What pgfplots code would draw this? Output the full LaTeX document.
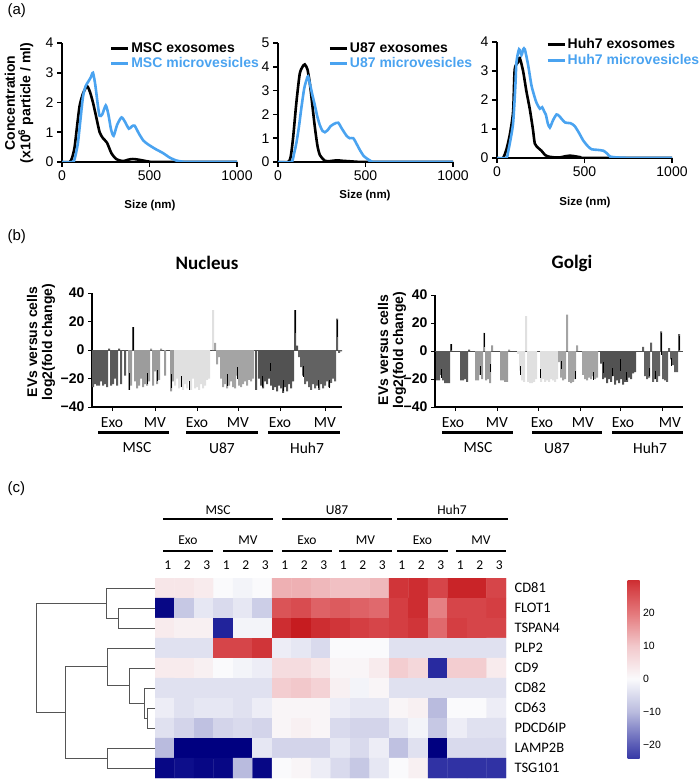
\documentclass[border=0pt]{standalone}
\usepackage{pgfplots}
\pgfplotsset{compat=1.18}
\usepackage{fontspec}
\setmainfont{Liberation Sans}
\newfontfamily\cali{Carlito}
\definecolor{mvblue}{HTML}{4AA3F0}
\definecolor{ga}{HTML}{5A5A5A}
\definecolor{gb}{HTML}{9C9C9C}
\definecolor{gc}{HTML}{E0E0E0}
\definecolor{gd}{HTML}{A4A4A4}
\definecolor{ge}{HTML}{525252}
\definecolor{gf}{HTML}{626262}
\definecolor{dendro}{HTML}{555555}
\newcommand{\fs}[1]{\fontsize{#1}{#1}\selectfont}

\pgfplotsset{
  nta/.style={scale only axis, width=175pt, xmin=0, xmax=1000, ymin=0,
    axis x line*=bottom, axis y line*=left,
    axis line style={line width=1.5pt},
    tick style={black, line width=1.5pt}, tick align=outside, major tick length=5pt,
    xtick={0,500,1000}, xticklabels={0,500,1000},
    tick label style={font=\fs{14}},
    legend cell align=left,
    legend style={draw=none, fill=none, anchor=north west, font=\bfseries\fs{14},
      row sep=1pt, nodes={inner sep=1.5pt}},
    legend image code/.code={\draw[#1, line width=3pt] (0pt,0pt) -- (17pt,0pt);},
  },
  ntb/.style={scale only axis, ymin=-40, ymax=40, ytick={-40,-20,0,20,40},
    yticklabels={\textbf{−40},\textbf{−20},\textbf{0},\textbf{20},\textbf{40}},
    axis x line*=bottom, axis y line*=left, axis line style={line width=1.2pt},
    tick style={black, line width=1pt}, tick align=outside, major tick length=4pt,
    xticklabels={}, tick label style={font=\fs{14}},
    extra y ticks={0}, extra y tick labels={},
    extra y tick style={grid=major, major grid style={black!70, line width=0.8pt}, major tick length=0pt},
  },
  bars/.style={ybar, bar width=2, bar shift=0pt, draw=none, fill=#1},
  errs/.style={draw=none, mark=none, forget plot, error bars/.cd, y dir=both, y explicit,
    error mark=none, error bar style={draw=black, line width=0.9pt}},
  dg/.style={dendro, line width=1pt, sharp plot, mark=none},
}

\begin{document}
\begin{tikzpicture}
\useasboundingbox (0,0) rectangle (698pt,-783pt);

% ---------------- (a) size distributions ----------------
\begin{axis}[nta, at={(62pt,-162pt)}, anchor=south west, height=119pt, ymax=4,
  ytick={0,1,2,3,4}, yticklabels={0,1,2,3,4},
  legend style={at={(0.255,1.035)}}]
\addplot[black, line width=2.6pt, smooth, tension=0.4] coordinates {
 (0,0)(44,0)(58,0.15)(72,0.5)(88,1.3)(101,1.9)(120,2.3)(143,2.55)(160,2.35)(177,2.0)
 (196,1.5)(215,1.0)(234,0.8)(257,0.65)(282,0.3)(310,0.1)(349,0.03)(380,0.08)(405,0.1)
 (435,0.08)(463,0.05)(500,0.01)(530,0)(1000,0)};
\addplot[mvblue, line width=2.6pt, smooth, tension=0.4] coordinates {
 (0,0)(60,0)(72,0.1)(90,0.6)(105,1.4)(120,2.2)(135,2.55)(150,2.7)(165,2.85)(177,3.0)
 (190,2.6)(205,1.9)(215,1.55)(230,1.6)(250,1.9)(265,1.6)(280,1.1)(295,0.88)(315,1.25)
 (340,1.5)(360,1.35)(382,1.12)(400,1.2)(415,1.22)(440,0.95)(465,0.72)(490,0.6)(530,0.45)
 (577,0.3)(615,0.15)(653,0.05)(690,0.01)(710,0)(1000,0)};
\legend{MSC exosomes, \textcolor{mvblue}{MSC microvesicles}}
\end{axis}

\begin{axis}[nta, at={(278pt,-162pt)}, anchor=south west, height=119pt, ymax=5,
  ytick={0,1,2,3,4,5}, yticklabels={0,1,2,3,4,5},
  legend style={at={(0.27,1.035)}}]
\addplot[black, line width=2.6pt, smooth, tension=0.4] coordinates {
 (0,0)(57,0)(72,0.2)(86,1.0)(105,2.5)(124,3.7)(140,4.0)(153,4.1)(168,3.9)(182,3.3)
 (196,2.4)(210,1.5)(225,0.7)(239,0.3)(268,0.05)(300,0.04)(335,0.07)(370,0.05)(411,0.03)
 (450,0.01)(488,0)(1000,0)};
\addplot[mvblue, line width=2.6pt, smooth, tension=0.4] coordinates {
 (0,0)(76,0)(90,0.3)(105,0.8)(120,1.5)(134,2.3)(150,3.1)(165,3.5)(172,3.6)(185,3.2)
 (197,2.8)(210,2.4)(225,1.9)(239,1.55)(255,1.3)(268,1.25)(285,1.35)(300,1.5)(320,1.6)
 (344,1.65)(365,1.4)(392,1.1)(410,1.0)(430,1.0)(450,0.75)(468,0.5)(490,0.25)(507,0.15)
 (535,0.02)(560,0)(1000,0)};
\legend{U87 exosomes, \textcolor{mvblue}{U87 microvesicles}}
\end{axis}

\begin{axis}[nta, at={(497pt,-158pt)}, anchor=south west, height=116pt, ymax=4,
  ytick={0,1,2,3,4}, yticklabels={0,1,2,3,4},
  legend style={at={(0.263,1.06)}}]
\addplot[black, line width=2.6pt, smooth, tension=0.4] coordinates {
 (0,0)(34,0)(54,0.3)(73,0.8)(92,1.6)(101,3.05)(120,3.3)(130,3.45)(149,3.0)(168,2.3)
 (187,1.7)(205,1.0)(216,0.5)(235,0.35)(254,0.25)(275,0.1)(293,0.05)(330,0.02)(360,0.02)
 (390,0.06)(417,0.08)(445,0.06)(474,0.03)(512,0)(1000,0)};
\addplot[mvblue, line width=2.6pt, smooth, tension=0.4] coordinates {
 (0,0)(54,0)(63,0.2)(73,0.5)(92,1.2)(105,2.5)(111,3.3)(126,3.75)(140,3.55)(150,3.75)
 (159,3.75)(178,3.2)(197,2.5)(215,2.1)(226,1.9)(245,1.7)(258,1.75)(270,1.6)(279,1.5)
 (290,1.2)(302,1.05)(320,1.3)(340,1.5)(355,1.45)(369,1.35)(390,1.22)(420,1.2)(444,1.1)
 (470,0.85)(493,0.6)(520,0.4)(541,0.3)(575,0.28)(608,0.25)(630,0.15)(646,0.05)(684,0.02)
 (720,0.01)(780,0)(1000,0)};
\legend{Huh7 exosomes, \textcolor{mvblue}{Huh7 microvesicles}}
\end{axis}

% ---------------- (b) fold changes ----------------
\begin{axis}[ntb, at={(92pt,-407pt)}, anchor=south west, width=250pt, height=114pt,
  xmin=92, xmax=342, xtick={112,155,197,238,280,325}]
\addplot[bars=ga] coordinates {(93,-26) (95,-24) (97,-25) (99,-25) (101,-22) (103,-25) (105,-24)
 (107,-26) (109,1) (111,-25) (113,-24) (115,-20) (117,-25) (119,1) (121,-24) (125,-18)};
\addplot[bars=gb] coordinates {(129,-28) (131,-25) (135,-22) (137,-27) (139,-25) (141,-20)
 (143,-26) (145,-24) (147,-25) (149,-22) (151,1) (153,-25) (155,-15) (157,-24) (159,-21)
 (161,1) (165,-18) (171,-29) (173,-22)};
\addplot[bars=gc] coordinates {(175,-25) (177,-20) (179,-27) (181,-26) (183,-28) (185,-24)
 (187,-27) (189,-22) (191,-28) (193,-20) (195,-27) (197,-26) (199,-28) (201,-24) (203,-27)
 (205,-25) (207,-21) (209,-20) (213,28)};
\addplot[bars=gd] coordinates {(215,5) (217,-10) (219,-5) (221,-20) (223,-26) (225,-24)
 (227,-27) (229,-25) (231,-22) (233,-26) (235,-27) (237,-18) (239,-25) (241,-26) (243,-24)
 (245,-22) (247,-25) (249,-21) (251,-22) (253,-20)};
\addplot[bars=ge] coordinates {(133,16) (256,-28) (259,-20) (261,-25) (263,-27) (265,-22)
 (267,-24) (269,-20) (271,-25) (273,-28) (275,-26) (277,-29) (279,-25) (281,-27) (283,-30)
 (285,-26) (287,-29) (289,-24) (291,-27) (293,-22) (295,28) (297,3)};
\addplot[bars=gf] coordinates {(299,-5) (301,-12) (303,-18) (305,-24) (307,-22) (309,-26)
 (311,-28) (313,-24) (315,-27) (317,-25) (319,-28) (321,-24) (323,-27) (325,-25) (327,-22)
 (329,-26) (331,-23) (333,-20) (335,-22) (337,22) (339,-2) (341,-1)};
\addplot[errs] coordinates {(129,-22) +- (0,6) (133,8) +- (0,8) (147,-20) +- (0,4)
 (157,-18) +- (0,4) (171,-22) +- (0,5) (181,-22) +- (0,4) (189,-25) +- (0,3)
 (227,-21) +- (0,4) (237,-16) +- (0,4) (262,-22) +- (0,4) (270,-12) +- (0,3)
 (283,-25) +- (0,4) (295,20) +- (0,8) (303,-15) +- (0,4) (318,-24) +- (0,3)
 (329,-24) +- (0,3) (337,15) +- (0,6)};
\end{axis}

\begin{axis}[ntb, at={(435pt,-407pt)}, anchor=south west, width=248pt, height=112pt,
  xmin=435, xmax=683, xtick={455,497,538,580,620,662}]
\addplot[bars=ga] coordinates {(437,-21) (439,-21) (441,-17) (443,-21) (445,-23) (447,-23)
 (449,-23) (451,5) (461,-21) (463,-21) (465,-20) (467,-22) (469,1)};
\addplot[bars=gb] coordinates {(476,-21) (478,-21) (480,-17) (482,-20) (484,13) (486,-21)
 (488,-20) (490,-23) (492,4) (501,-21) (503,-21) (505,-22) (507,-22) (509,1)};
\addplot[bars=gc] coordinates {(518,-2) (520,-14) (522,-21) (524,-22) (526,25) (528,-22)
 (530,-23) (532,-23) (534,-22) (536,-20) (541,-22) (543,-20) (545,-22) (547,-21) (549,-22)
 (551,-20) (553,-21) (555,-22) (557,-20)};
\addplot[bars=gd] coordinates {(559,-8) (561,-19) (563,-21) (565,-20) (567,26) (569,-22)
 (571,-23) (573,-22) (575,-20) (577,4) (583,-17) (585,-20) (587,-21) (589,-19) (591,-20)
 (593,-18) (595,-20) (597,-19)};
\addplot[bars=ge] coordinates {(601,-9) (603,-20) (605,-19) (607,-23) (609,-20) (611,-22)
 (613,-18) (615,-24) (617,-21) (619,-23) (621,-20) (623,-24) (625,-22) (627,-22) (629,-19)
 (631,-20) (633,-16) (635,-15)};
\addplot[bars=gf] coordinates {(643,3) (645,-18) (647,-20) (649,-19) (651,6) (653,-22)
 (655,-20) (657,-22) (659,-18) (661,14) (663,-20) (665,-21) (667,-22) (669,2) (671,-6)
 (673,-10) (675,-15) (677,-15) (679,12)};
\addplot[errs] coordinates {(441,-16) +- (0,3) (451,3) +- (0,2) (480,-14) +- (0,3)
 (484,8) +- (0,5) (490,-12) +- (0,3) (520,-14) +- (0,3) (540,-16) +- (0,3)
 (561,-10) +- (0,3) (575,-17) +- (0,3) (593,-18) +- (0,3) (603,-12) +- (0,4)
 (612,-15) +- (0,3) (620,-10) +- (0,4) (626,-18) +- (0,3) (649,-15) +- (0,3)
 (655,-17) +- (0,3) (661,5) +- (0,8) (671,-8) +- (0,3) (679,6) +- (0,5)};
\end{axis}

% ---------------- (c) heatmap ----------------
\begin{axis}[at={(155pt,-578pt)}, anchor=north west, scale only axis,
  width=351pt, height=200pt, xmin=-0.5, xmax=17.5, ymin=-0.5, ymax=9.5, y dir=reverse,
  hide axis, enlargelimits=false,
  colormap={hm}{rgb255(0pt)=(0,0,128) rgb255(6pt)=(40,42,160) rgb255(12pt)=(90,92,182)
    rgb255(22pt)=(185,187,222) rgb255(32pt)=(250,250,252) rgb255(42pt)=(242,200,203)
    rgb255(52pt)=(228,120,123) rgb255(60pt)=(212,62,66) rgb255(64pt)=(198,28,32)},
  point meta min=-32, point meta max=32,
  colorbar,
  colorbar style={at={(parent axis.north east)}, anchor=north west, xshift=113pt, yshift=-2pt,
    scale only axis, width=12pt, height=178pt, ymin=-24, ymax=30,
    ytick={-20,-10,0,10,20}, yticklabels={−20,−10,0,10,20}, yticklabel pos=right,
    major tick length=0pt, axis line style={draw=none},
    yticklabel style={font=\fs{10.5}}}]
\addplot[matrix plot*, mesh/cols=18, point meta=explicit] coordinates {
 (0,0)[4] (1,0)[4] (2,0)[3] (3,0)[0] (4,0)[-1] (5,0)[0] (6,0)[13] (7,0)[13] (8,0)[12]
 (9,0)[11] (10,0)[11] (11,0)[12] (12,0)[29] (13,0)[30] (14,0)[27] (15,0)[31] (16,0)[31] (17,0)[27]
 (0,1)[-31] (1,1)[-8] (2,1)[-3] (3,1)[-5] (4,1)[-3] (5,1)[-7] (6,1)[25] (7,1)[26] (8,1)[23]
 (9,1)[24] (10,1)[23] (11,1)[22] (12,1)[28] (13,1)[30] (14,1)[19] (15,1)[27] (16,1)[27] (17,1)[28]
 (0,2)[3] (1,2)[2] (2,2)[2] (3,2)[-27] (4,2)[-1] (5,2)[-1] (6,2)[30] (7,2)[32] (8,2)[30]
 (9,2)[29] (10,2)[28] (11,2)[27] (12,2)[28] (13,2)[29] (14,2)[22] (15,2)[28] (16,2)[27] (17,2)[27]
 (0,3)[-4] (1,3)[-4] (2,3)[-4] (3,3)[27] (4,3)[27] (5,3)[29] (6,3)[-2] (7,3)[-3] (8,3)[-5]
 (9,3)[0] (10,3)[0] (11,3)[0] (12,3)[-4] (13,3)[-4] (14,3)[-4] (15,3)[-4] (16,3)[-4] (17,3)[-4]
 (0,4)[3] (1,4)[3] (2,4)[2] (3,4)[0] (4,4)[-1] (5,4)[-2] (6,4)[6] (7,4)[6] (8,4)[4]
 (9,4)[1] (10,4)[1] (11,4)[3] (12,4)[9] (13,4)[7] (14,4)[-26] (15,4)[9] (16,4)[9] (17,4)[3]
 (0,5)[-4] (1,5)[-4] (2,5)[-4] (3,5)[-4] (4,5)[-4] (5,5)[-4] (6,5)[9] (7,5)[10] (8,5)[8]
 (9,5)[2] (10,5)[-1] (11,5)[1] (12,5)[-4] (13,5)[-4] (14,5)[-4] (15,5)[-4] (16,5)[-4] (17,5)[-4]
 (0,6)[-2] (1,6)[-4] (2,6)[-3] (3,6)[-3] (4,6)[-4] (5,6)[-2] (6,6)[1] (7,6)[1] (8,6)[1]
 (9,6)[-2] (10,6)[-3] (11,6)[-3] (12,6)[1] (13,6)[2] (14,6)[-10] (15,6)[0] (16,6)[0] (17,6)[-2]
 (0,7)[-4] (1,7)[-6] (2,7)[-9] (3,7)[-6] (4,7)[-5] (5,7)[-6] (6,7)[1] (7,7)[2] (8,7)[1]
 (9,7)[-5] (10,7)[-6] (11,7)[-6] (12,7)[-3] (13,7)[-1] (14,7)[-8] (15,7)[-2] (16,7)[-4] (17,7)[-4]
 (0,8)[-10] (1,8)[-32] (2,8)[-32] (3,8)[-32] (4,8)[-32] (5,8)[-3] (6,8)[-6] (7,8)[-6] (8,8)[-6]
 (9,8)[-3] (10,8)[-5] (11,8)[-2] (12,8)[-9] (13,8)[-4] (14,8)[-32] (15,8)[-5] (16,8)[-5] (17,8)[-5]
 (0,9)[-31] (1,9)[-30] (2,9)[-31] (3,9)[-31] (4,9)[-10] (5,9)[-31] (6,9)[0] (7,9)[1] (8,9)[-2]
 (9,9)[-5] (10,9)[-8] (11,9)[-3] (12,9)[0] (13,9)[2] (14,9)[-25] (15,9)[-25] (16,9)[-25] (17,9)[-25]
};
\end{axis}

% dendrogram
\begin{axis}[at={(30pt,-578pt)}, anchor=north west, scale only axis, width=125pt, height=200pt,
  xmin=30, xmax=155, ymin=-0.5, ymax=9.5, y dir=reverse, hide axis, clip=false]
\addplot[dg] coordinates {(155,1) (118,1) (118,2) (155,2)};
\addplot[dg] coordinates {(155,0) (106,0) (106,1.5) (118,1.5)};
\addplot[dg] coordinates {(155,6) (147,6) (147,7) (155,7)};
\addplot[dg] coordinates {(155,5) (144,5) (144,6.5) (147,6.5)};
\addplot[dg] coordinates {(155,4) (129,4) (129,5.75) (144,5.75)};
\addplot[dg] coordinates {(155,3) (107,3) (107,4.875) (129,4.875)};
\addplot[dg] coordinates {(155,8) (107,8) (107,9) (155,9)};
\addplot[dg] coordinates {(107,3.94) (65,3.94) (65,8.5) (107,8.5)};
\addplot[dg] coordinates {(106,0.75) (36,0.75) (36,6.22) (65,6.22)};
\end{axis}

% ---------------- annotations ----------------
\begin{scope}[x=1pt, y=-1pt]
\node[anchor=west, font=\fs{15}] at (4,11) {(a)};
\node[anchor=west, font=\fs{15}] at (4,237) {(b)};
\node[anchor=west, font=\fs{15}] at (4,489) {(c)};

\node[rotate=90, align=center, font=\bfseries\fontsize{14}{15.5}\selectfont] at (19,103)
  {Concentration\\(x10\textsuperscript{6} particle / ml)};
\node[font=\bfseries\fs{11.5}] at (150,206) {Size (nm)};
\node[font=\bfseries\fs{11.5}] at (365,196) {Size (nm)};
\node[font=\bfseries\fs{11.5}] at (585,203) {Size (nm)};

\node[font=\cali\bfseries\fs{19}] at (207,263) {Nucleus};
\node[font=\cali\bfseries\fs{19}] at (572,263) {Golgi};
\node[rotate=90, align=center, font=\bfseries\fontsize{14}{15}\selectfont] at (41,342)
  {EVs versus cells\\log2(fold change)};
\node[rotate=90, align=center, font=\bfseries\fontsize{14}{15}\selectfont] at (392,350)
  {EVs versus cells\\log2(fold change)};

\begin{scope}[font=\cali\fs{15.5}]
\foreach \xe/\xm/\xa/\xb/\xn/\nm in {112/155/98/169/137/MSC, 197/238/186/258/222/U87,
    280/325/268/340/307/Huh7, 453/497/442/513/478/MSC, 542/583/532/602/557/U87,
    623/670/612/683/650/Huh7} {
  \node at (\xe,423) {Exo};
  \node at (\xm,423) {MV};
  \draw[line width=3pt] (\xa,432) -- (\xb,432);
  \node at (\xn,448) {\nm};
}
\end{scope}

\begin{scope}[font=\cali\fs{13.5}]
\foreach \xc/\xa/\xb/\nm in {218/163/273/MSC, 337/282/392/U87, 452/397/508/Huh7} {
  \node at (\xc,510) {\nm};
  \draw[line width=1.6pt] (\xa,519) -- (\xb,519);
}
\foreach \xa/\xb/\nm in {163/213/Exo, 223/273/MV, 282/332/Exo, 339/392/MV, 397/448/Exo, 456/506/MV} {
  \node at ({(\xa+\xb)/2},540) {\nm};
  \draw[line width=1.6pt] (\xa,551) -- (\xb,551);
}
\foreach \i in {0,...,17} {
  \pgfmathtruncatemacro\d{mod(\i,3)+1}
  \node at ({158+19.5*(\i+0.5)},565) {\d};
}
\end{scope}
\foreach \g [count=\r from 0] in {CD81,FLOT1,TSPAN4,PLP2,CD9,CD82,CD63,PDCD6IP,LAMP2B,TSG101}
  \node[anchor=west, font=\cali\fs{14.5}] at (511,588+20*\r) {\g};
\end{scope}
\end{tikzpicture}
\end{document}
